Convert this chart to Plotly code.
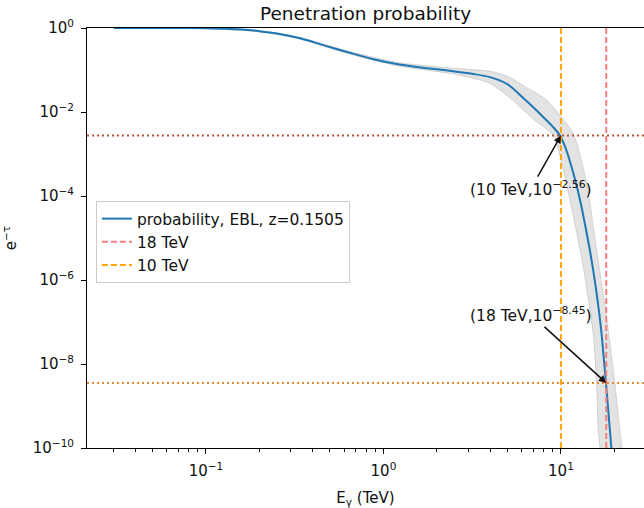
import numpy as np
import plotly.graph_objects as go

# ---- data ----
# central curve: log10(E/TeV), log10(probability)
curve_logE = [-1.52, -1.2, -1.0, -0.9, -0.8, -0.7, -0.6, -0.47, -0.33, -0.19, -0.05, 0.09, 0.23,
              0.375, 0.5, 0.6, 0.7, 0.786, 0.85, 0.90, 0.95, 0.994, 1.03, 1.06, 1.09, 1.116,
              1.14, 1.163, 1.183, 1.201, 1.216, 1.229, 1.2535, 1.276, 1.30]
curve_logP = [0.0, -0.002, -0.006, -0.016, -0.035, -0.075, -0.13, -0.245, -0.42, -0.59, -0.75,
              -0.87, -0.95, -1.02, -1.09, -1.17, -1.34, -1.66, -1.91, -2.12, -2.33, -2.555,
              -2.90, -3.31, -3.78, -4.26, -4.77, -5.29, -5.80, -6.32, -6.80, -7.28, -8.45,
              -9.58, -10.8]
# uncertainty band, upper (right) edge
upper_logE = [-1.52, -1.0, -0.7, -0.47, -0.19, 0.09, 0.375, 0.5, 0.6, 0.7, 0.8, 0.919, 1.069,
              1.145, 1.201, 1.257, 1.304, 1.332, 1.344, 1.36]
upper_logP = [0.01, 0.005, -0.06, -0.225, -0.56, -0.83, -0.95, -0.99, -1.03, -1.15, -1.40,
              -1.72, -2.51, -3.70, -5.29, -6.88, -8.47, -9.58, -10.0, -10.6]
# uncertainty band, lower (left) edge
lower_logE = [-1.52, -1.0, -0.7, -0.47, -0.19, 0.09, 0.375, 0.5, 0.6, 0.713, 0.85, 0.957,
              1.051, 1.126, 1.182, 1.201, 1.210, 1.22, 1.23]
lower_logP = [-0.01, -0.015, -0.09, -0.265, -0.62, -0.91, -1.08, -1.19, -1.32, -1.66, -2.19,
              -2.555, -4.10, -5.69, -7.28, -8.47, -9.58, -10.0, -10.6]

vline_E = [18, 10]
vline_names = ["18 TeV", "10 TeV"]
vline_colors = ["#f08080", "#ffa500"]
hline_logP = [-2.56, -8.45]
hline_colors = ["#b0552e", "#e08a3a"]
ann_text = ["(10 TeV,10<sup>\u22122.56</sup>)", "(18 TeV,10<sup>\u22128.45</sup>)"]
ann_E = [10, 18]

y_tick_exp = [0, -2, -4, -6, -8, -10]
x_tick_exp = [-1, 0, 1]
x_minor = [m * 10.0 ** d for d in (-2, -1, 0, 1) for m in range(2, 10)]

x_range = [-1.670, 1.468]
y_range = [-10, 0]

FONT = "DejaVu Sans"

E = 10 ** np.array(curve_logE)
P = 10 ** np.array(curve_logP)
bandE = np.concatenate([10 ** np.array(upper_logE), (10 ** np.array(lower_logE))[::-1]])
bandP = np.concatenate([10 ** np.array(upper_logP), (10 ** np.array(lower_logP))[::-1]])

fig = go.Figure()
fig.add_trace(go.Scatter(x=bandE, y=bandP, fill="toself", mode="lines",
                         fillcolor="rgba(200,200,200,0.5)",
                         line=dict(color="rgba(190,190,190,0.6)", width=1, shape="spline",
                                   smoothing=0.6),
                         showlegend=False, hoverinfo="skip"))
fig.add_trace(go.Scatter(x=E, y=P, mode="lines", name="probability, EBL, z=0.1505",
                         line=dict(color="#1f77b4", width=2, shape="spline", smoothing=0.8)))
for e, n, c in zip(vline_E, vline_names, vline_colors):
    fig.add_trace(go.Scatter(x=[e, e], y=[10 ** y_range[0], 10 ** y_range[1]], mode="lines",
                             name=n, line=dict(color=c, width=2, dash="6px,3px")))
for lp, c in zip(hline_logP, hline_colors):
    fig.add_trace(go.Scatter(x=[10 ** x_range[0], 10 ** x_range[1]], y=[10 ** lp, 10 ** lp],
                             mode="lines", showlegend=False,
                             line=dict(color=c, width=2, dash="2px,3px")))

offsets = [(-30, 53), (-75, -68)]
for t, e, lp, (ax, ay) in zip(ann_text, ann_E, hline_logP, offsets):
    fig.add_annotation(x=np.log10(e), y=lp, text=t, showarrow=True, ax=ax, ay=ay,
                       arrowhead=2, arrowsize=1, arrowwidth=1.5, arrowcolor="#111111",
                       font=dict(family=FONT, size=15.5, color="#111111"))

fig.update_layout(
    width=644, height=508,
    margin=dict(l=87, r=0, t=28, b=60),
    paper_bgcolor="white", plot_bgcolor="white",
    font=dict(family=FONT, size=15, color="#111111"),
    title=dict(text="Penetration probability", x=0.5, xref="paper", xanchor="center",
               y=0.974, yref="container", yanchor="middle",
               font=dict(family=FONT, size=18.5, color="#111111")),
    legend=dict(x=0.016, y=0.588, xanchor="left", yanchor="top", itemwidth=30,
                bgcolor="rgba(255,255,255,0.8)", bordercolor="#cccccc", borderwidth=1,
                font=dict(family=FONT, size=15.5, color="#111111"), tracegroupgap=0),
)
fig.update_xaxes(type="log", range=x_range, showgrid=False, zeroline=False,
                 showline=True, linecolor="black", linewidth=1, mirror=True,
                 ticks="outside", ticklen=5, tickcolor="black", ticklabelstandoff=4,
                 tickvals=[10.0 ** k for k in x_tick_exp],
                 ticktext=["10<sup>%s</sup>" % (str(k).replace("-", "\u2212")) for k in x_tick_exp],
                 tickfont=dict(family=FONT, size=15),
                 minor=dict(tickvals=x_minor, ticks="outside", ticklen=3, tickcolor="black"),
                 title=dict(text="E<sub>\u03b3</sub> (TeV)", standoff=14,
                            font=dict(family=FONT, size=15)))
fig.update_yaxes(type="log", range=y_range, showgrid=False, zeroline=False,
                 showline=True, linecolor="black", linewidth=1, mirror=False,
                 ticks="outside", ticklen=5, tickcolor="black", ticklabelstandoff=4,
                 tickvals=[10.0 ** k for k in y_tick_exp],
                 ticktext=["10<sup>%s</sup>" % (str(k).replace("-", "\u2212")) for k in y_tick_exp],
                 tickfont=dict(family=FONT, size=15),
                 title=dict(text="e<sup>\u2212\u03c4</sup>", standoff=12,
                            font=dict(family=FONT, size=15)))

fig.write_html("out.html")
